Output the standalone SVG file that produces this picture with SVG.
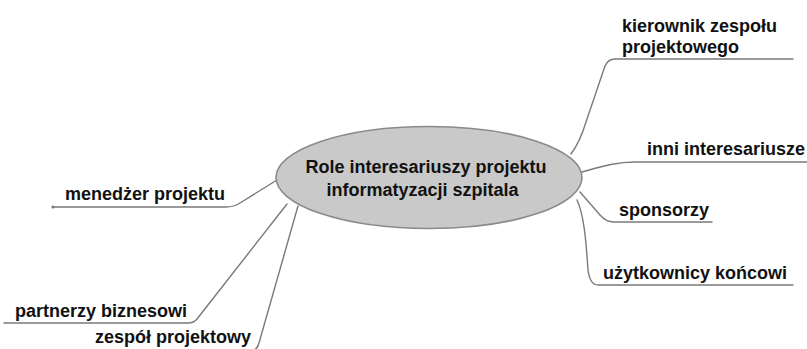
<svg xmlns="http://www.w3.org/2000/svg" width="807" height="349" viewBox="0 0 807 349">
  <style>
    .lbl { font-family: "Liberation Sans", Arial, sans-serif; font-size: 18px; font-weight: bold; fill: #111; }
    .conn { fill: none; stroke: #7a7a7a; stroke-width: 1.4; stroke-linecap: round; stroke-linejoin: round; }
  </style>
  <rect width="807" height="349" fill="#ffffff"/>

  <!-- branches from the central topic -->
  <g id="connectors">
    <path class="conn" d="M571,154 Q 580,142 586,122 L 605,66 Q 608,59 615,59 H 793"/>
    <path class="conn" d="M582,172 C 600,167 615,162 635,162 H 807"/>
    <path class="conn" d="M580,192 L 600,215 Q 606,222 614,222 H 712"/>
    <path class="conn" d="M577,200 C 584,215 586,240 588,270 Q 590,285 598,285 H 793"/>
    <path class="conn" d="M277,180 L 240,203 Q 234,207 226,207 H 53"/>
    <circle cx="53" cy="207" r="1.6" fill="#7a7a7a"/>
    <path class="conn" d="M287,204 L 197,319 Q 194,323 188,323 H 4"/>
    <path class="conn" d="M298,206 L 259,343 Q 257,351 250,351 H 80"/>
  </g>

  <!-- central topic -->
  <g id="center">
    <ellipse cx="429" cy="177.5" rx="153" ry="51" fill="#c9c9c9" stroke="#8a8a8a" stroke-width="1.6"/>
    <text class="lbl" x="426" y="173" text-anchor="middle">Role interesariuszy projektu</text>
    <text class="lbl" x="422.5" y="196" text-anchor="middle">informatyzacji szpitala</text>
  </g>

  <g id="kierownik">
    <text class="lbl" x="622" y="32">kierownik zespołu</text>
    <text class="lbl" x="622" y="53">projektowego</text>
  </g>
  <g id="inni">
    <text class="lbl" x="647" y="155">inni interesariusze</text>
  </g>
  <g id="sponsorzy">
    <text class="lbl" x="619" y="216">sponsorzy</text>
  </g>
  <g id="uzytkownicy">
    <text class="lbl" x="603" y="279">użytkownicy końcowi</text>
  </g>
  <g id="menedzer">
    <text class="lbl" x="65" y="200">menedżer projektu</text>
  </g>
  <g id="partnerzy">
    <text class="lbl" x="15" y="317">partnerzy biznesowi</text>
  </g>
  <g id="zespol">
    <text class="lbl" x="95" y="343">zespół projektowy</text>
  </g>
</svg>
